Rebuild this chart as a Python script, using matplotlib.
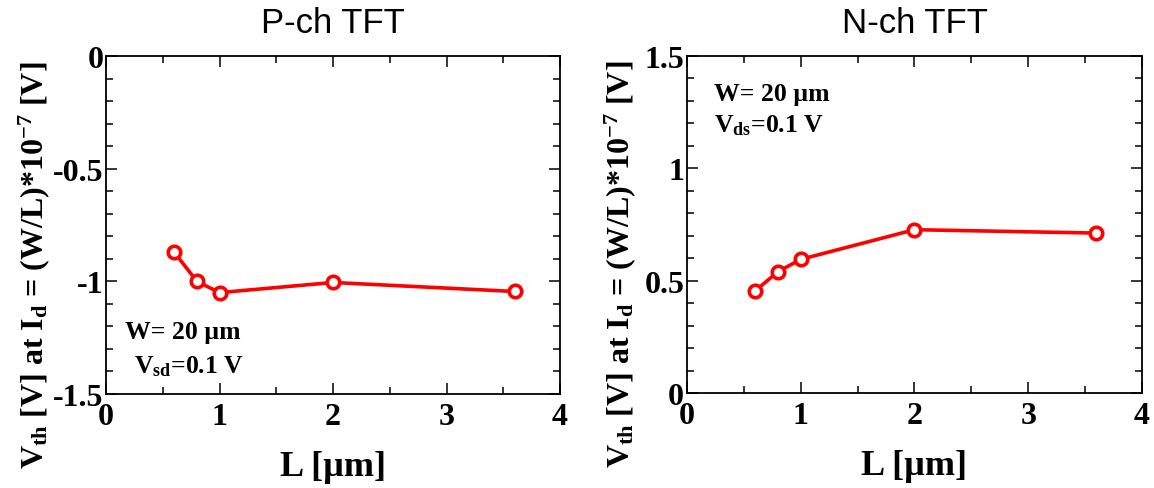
import matplotlib
matplotlib.use("Agg")
import matplotlib.pyplot as plt
from matplotlib.ticker import MultipleLocator, FuncFormatter

# Channel length sweep and extracted threshold voltages
L_um = [0.6, 0.8, 1.0, 2.0, 3.6]
vth_pch = [-0.87, -1.00, -1.05, -1.005, -1.045]
vth_nch = [0.455, 0.54, 0.595, 0.727, 0.712]

titles = ["P-ch TFT", "N-ch TFT"]
pch_ylim = (-1.5, 0.0)
nch_ylim = (0.0, 1.5)
xlim = (0, 4)

plt.rcParams["mathtext.fontset"] = "custom"
plt.rcParams["mathtext.rm"] = "Liberation Serif:bold"
plt.rcParams["mathtext.it"] = "Liberation Serif:bold"
plt.rcParams["mathtext.bf"] = "Liberation Serif:bold"

serif_bold = dict(family="Liberation Serif", weight="bold")

fig = plt.figure(figsize=(11.54, 4.89), dpi=100)
ax_p = fig.add_axes([0.0919, 0.1922, 0.3934, 0.6912])
ax_n = fig.add_axes([0.5953, 0.1942, 0.3943, 0.6892])

ylabel = r"$V_{th}$ [V] at $I_d$ = (W/L)*10$^{-7}$ [V]"


def style(ax, ylim, title, ylabel_x, yfmt):
    ax.set_xlim(*xlim)
    ax.set_ylim(*ylim)
    ax.xaxis.set_major_locator(MultipleLocator(1))
    ax.xaxis.set_minor_locator(MultipleLocator(0.5))
    ax.yaxis.set_major_locator(MultipleLocator(0.5))
    ax.yaxis.set_minor_locator(MultipleLocator(0.1))
    ax.xaxis.set_major_formatter(FuncFormatter(lambda v, p: f"{v:g}"))
    ax.yaxis.set_major_formatter(FuncFormatter(yfmt))
    ax.tick_params(which="both", direction="in", top=True, right=True,
                   width=1.1)
    ax.tick_params(axis="y", pad=2)
    ax.tick_params(axis="x", pad=6)
    ax.tick_params(which="major", length=8)
    ax.tick_params(which="minor", length=5)
    for sp in ax.spines.values():
        sp.set_linewidth(1.3)
    for lab in ax.get_xticklabels() + ax.get_yticklabels():
        lab.set_fontfamily("Liberation Serif")
        lab.set_fontweight("bold")
        lab.set_fontsize(23)
    ax.set_title(title, family="Liberation Sans", fontsize=25, pad=17)
    ax.set_xlabel("L [µm]", fontsize=26, **serif_bold)
    ax.xaxis.set_label_coords(0.5, -0.165)
    ax.set_ylabel(ylabel, fontsize=23, va="center", **serif_bold)
    ax.yaxis.set_label_coords(ylabel_x, 0.385)


ax_p.plot(L_um, vth_pch, color="#ff0000", lw=2.6, marker="o", ms=9,
          mfc="white", mec="#ff0000", mew=2.6)
ax_n.plot(L_um, vth_nch, color="#ff0000", lw=2.6, marker="o", ms=9,
          mfc="white", mec="#ff0000", mew=2.6)

style(ax_p, pch_ylim, titles[0], -0.158,
      lambda v, p: "0" if abs(v) < 1e-9 else f"{v:g}")
style(ax_n, nch_ylim, titles[1], -0.147, lambda v, p: f"{v:g}")

ax_p.text(0.042, 0.165, "W= 20 µm", transform=ax_p.transAxes, fontsize=18.5,
          **serif_bold)
ax_p.text(0.062, 0.065, r"V$_{sd}$=0.1 V", transform=ax_p.transAxes,
          fontsize=18.5, **serif_bold)
ax_n.text(0.06, 0.87, "W= 20 µm", transform=ax_n.transAxes, fontsize=18.5,
          **serif_bold)
ax_n.text(0.06, 0.775, r"V$_{ds}$=0.1 V", transform=ax_n.transAxes,
          fontsize=18.5, **serif_bold)

fig.savefig("out.png", dpi=100)
